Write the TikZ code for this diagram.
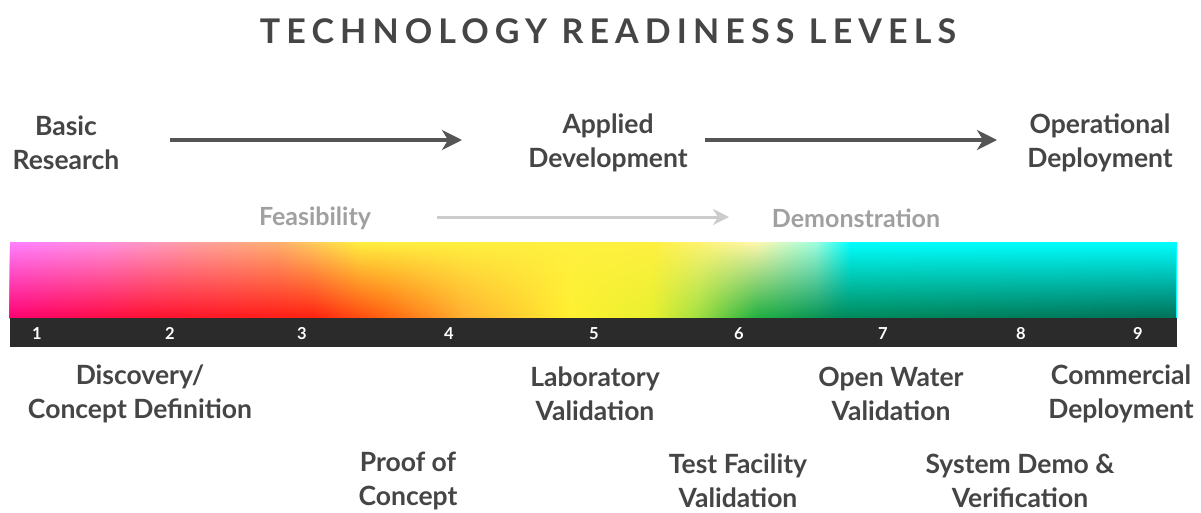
\documentclass[tikz,border=0pt]{standalone}
\usepackage{fontspec}
\setmainfont{Lato}
\usetikzlibrary{arrows.meta,fadings}
\definecolor{txt}{HTML}{454545}
\definecolor{ltxt}{HTML}{A0A0A0}
\definecolor{arr}{HTML}{555555}
\definecolor{larr}{HTML}{CCCCCC}
\definecolor{strip}{HTML}{2B2B2B}
% top row colours
\definecolor{t0}{HTML}{FF80FF}
\definecolor{t1}{HTML}{FF90E0}
\definecolor{t2}{HTML}{FFA0A0}
\definecolor{t3}{HTML}{FFB070}
\definecolor{t4}{HTML}{FFF040}
\definecolor{t5}{HTML}{FFF040}
\definecolor{t6}{HTML}{FFF8B0}
\definecolor{t7}{HTML}{A0FFE0}
\definecolor{t8}{HTML}{00FFFF}
% bottom row colours
\definecolor{b0}{HTML}{FF0070}
\definecolor{b1}{HTML}{FF1030}
\definecolor{b2}{HTML}{FF2010}
\definecolor{b3}{HTML}{FF6010}
\definecolor{b4}{HTML}{FFB030}
\definecolor{b5}{HTML}{FFF030}
\definecolor{b6}{HTML}{E8F030}
\definecolor{b7}{HTML}{A0E040}
\definecolor{b8}{HTML}{20B040}
\definecolor{b9}{HTML}{008A5A}
\definecolor{b10}{HTML}{007058}
% stops: 25bp + 50*fraction
\pgfdeclarehorizontalshading{topgrad}{100bp}{%
color(0bp)=(t0); color(25bp)=(t0); color(29bp)=(t1); color(33bp)=(t2);
color(36.5bp)=(t3); color(40bp)=(t4); color(52.5bp)=(t5);
color(57bp)=(t6); color(59.5bp)=(t7); color(61bp)=(t8);
color(75bp)=(t8); color(100bp)=(t8)}
\pgfdeclarehorizontalshading{botgrad}{100bp}{%
color(0bp)=(b0); color(25bp)=(b0); color(31bp)=(b1); color(38bp)=(b2);
color(41bp)=(b3); color(44.5bp)=(b4); color(49bp)=(b5); color(52.5bp)=(b6);
color(54.5bp)=(b7); color(57bp)=(b8); color(60.5bp)=(b9);
color(75bp)=(b10); color(100bp)=(b10)}
\tikzfading[name=fadedown, top color=transparent!100, bottom color=transparent!0]
\tikzset{
  lbl/.style={font=\bfseries\fontsize{26.5}{34}\selectfont, text=txt, align=center, inner sep=0pt},
  glbl/.style={font=\bfseries\fontsize{25}{30}\selectfont, text=ltxt, align=center, inner sep=0pt},
  num/.style={font=\bfseries\fontsize{16.5}{18}\selectfont, text=white, inner sep=0pt, anchor=base},
  bigarrow/.style={draw=arr, line width=4pt, -{Stealth[length=20pt,width=20pt,inset=6pt]}},
  lightarrow/.style={draw=larr, line width=3pt, -{Stealth[length=16pt,width=16pt,inset=5pt]}},
}
\begin{document}
\begin{tikzpicture}[x=1pt,y=-1pt]
\useasboundingbox[fill=white] (0,0) rectangle (1201,512);
% title
\node[font=\bfseries\fontsize{34}{38}\selectfont\addfontfeatures{LetterSpace=18}, text=txt, inner sep=0pt] (title) at (608,31) {TECHNOLOGY READINESS LEVELS};
% phases
\node[lbl] (basic) at (66,143) {Basic\\Research};
\node[lbl] (applied) at (608,143) {Applied\\Development};
\node[lbl] (oper) at (1100,143) {Operational\\Deployment};
\coordinate (a1s) at (170,140); \coordinate (a1e) at (462,140);
\coordinate (a2s) at (705,140); \coordinate (a2e) at (997,140);
\draw[bigarrow] (a1s) -- (a1e);
\draw[bigarrow] (a2s) -- (a2e);
% sub-phases
\node[glbl] (feas) at (315,218) {Feasibility};
\node[glbl] (demo) at (856,218) {Demonstration};
\coordinate (l1s) at (437,217); \coordinate (l1e) at (729,217);
\draw[lightarrow] (l1s) -- (l1e);
% gradient bar
\shade[shading=topgrad] (10,242) rectangle (1177,318);
\shade[shading=botgrad, path fading=fadedown] (10,242) rectangle (1177,318);
\fill[strip] (10,318) rectangle (1177,347);
% numbers
\foreach \n/\x in {1/37,2/170,3/302,4/449,5/594,6/739,7/883,8/1021,9/1138}
  \node[num] (n\n) at (\x,339) {\n};
% level labels
\node[lbl] (l1) at (140,394) {Discovery/\\Concept Definition};
\node[lbl] (l5) at (595,394) {Laboratory\\Validation};
\node[lbl] (l7) at (891,394) {Open Water\\Validation};
\node[lbl] (l9) at (1121,394) {Commercial\\Deployment};
\node[lbl] (l3) at (408,481) {Proof of\\Concept};
\node[lbl] (l6) at (738,481) {Test Facility\\Validation};
\node[lbl] (l8) at (1020,481) {System Demo \&\\Verification};
\end{tikzpicture}
\end{document}
